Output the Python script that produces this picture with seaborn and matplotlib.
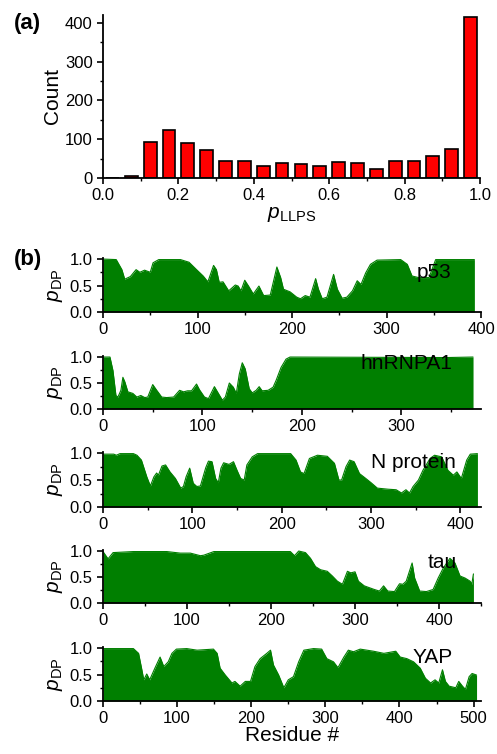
import numpy as np
import pandas as pd
import matplotlib
matplotlib.use('Agg')
import matplotlib.pyplot as plt
from matplotlib.ticker import MultipleLocator
import seaborn as sns

# ---- panel (a): histogram of p_LLPS ----
bin_centers = [0.025, 0.075, 0.125, 0.175, 0.225, 0.275, 0.325, 0.375, 0.425, 0.475,
               0.525, 0.575, 0.625, 0.675, 0.725, 0.775, 0.825, 0.875, 0.925, 0.975]
bin_counts = [1, 4, 94, 124, 89, 71, 45, 45, 31, 39,
              36, 30, 42, 38, 23, 45, 45, 56, 75, 414]

# ---- panel (b): p_DP profiles (residue, value) ----
p53_res = [0, 14, 20, 23, 29, 35, 39, 44, 50, 53, 59, 82, 91, 99, 106, 111, 117, 120, 123, 127,
           133, 140, 143, 146, 150, 154, 159, 165, 170, 177, 184, 188, 191, 198, 205, 209, 214,
           219, 225, 228, 232, 237, 244, 248, 253, 258, 264, 269, 273, 278, 283, 290, 315, 322,
           327, 334, 345, 352, 393]
p53_val = [1.0, 0.99, 0.8, 0.62, 0.67, 0.80, 0.75, 0.79, 0.75, 0.93, 0.99, 0.99, 0.94, 0.80,
           0.68, 0.57, 0.88, 0.80, 0.56, 0.57, 0.40, 0.51, 0.49, 0.40, 0.60, 0.49, 0.34, 0.49,
           0.31, 0.32, 0.85, 0.65, 0.43, 0.38, 0.28, 0.25, 0.31, 0.28, 0.63, 0.43, 0.25, 0.28,
           0.71, 0.43, 0.26, 0.28, 0.40, 0.59, 0.52, 0.74, 0.90, 0.98, 0.99, 0.90, 0.68, 0.65,
           0.65, 0.99, 0.99]

hnrnpa1_res = [0, 7, 10, 13, 15, 18, 20, 22, 25, 30, 34, 38, 42, 45, 50, 54, 59, 64, 71, 77,
               81, 85, 89, 94, 97, 102, 106, 112, 116, 120, 123, 127, 131, 134, 137, 140, 143,
               147, 150, 154, 157, 160, 166, 171, 174, 179, 184, 188, 345, 372]
hnrnpa1_val = [1.0, 1.0, 0.74, 0.26, 0.23, 0.36, 0.61, 0.52, 0.33, 0.30, 0.23, 0.26, 0.22,
               0.23, 0.47, 0.36, 0.23, 0.22, 0.23, 0.36, 0.33, 0.35, 0.35, 0.48, 0.37, 0.23,
               0.20, 0.43, 0.30, 0.17, 0.23, 0.50, 0.42, 0.30, 0.67, 0.89, 0.77, 0.39, 0.31,
               0.36, 0.43, 0.35, 0.36, 0.42, 0.55, 0.80, 0.96, 1.0, 0.99, 1.0]

nprot_res = [0, 12, 15, 19, 34, 38, 43, 49, 53, 57, 60, 62, 66, 70, 75, 81, 87, 90, 93, 97,
             101, 105, 109, 115, 118, 122, 126, 129, 132, 135, 141, 146, 150, 154, 158, 161,
             167, 173, 210, 216, 221, 225, 231, 240, 251, 259, 264, 267, 272, 276, 281, 287,
             294, 300, 307, 319, 328, 334, 339, 343, 347, 353, 358, 366, 371, 379, 386, 392,
             396, 401, 407, 411, 419]
nprot_val = [0.98, 0.98, 0.96, 0.99, 0.99, 0.96, 0.87, 0.56, 0.39, 0.56, 0.63, 0.59, 0.76,
             0.78, 0.65, 0.53, 0.35, 0.38, 0.56, 0.72, 0.44, 0.38, 0.39, 0.73, 0.85, 0.84,
             0.53, 0.45, 0.72, 0.82, 0.79, 0.84, 0.68, 0.53, 0.50, 0.78, 0.93, 0.99, 0.99,
             0.87, 0.65, 0.62, 0.90, 0.96, 0.94, 0.81, 0.50, 0.50, 0.75, 0.87, 0.84, 0.62,
             0.53, 0.45, 0.35, 0.33, 0.32, 0.26, 0.32, 0.26, 0.38, 0.50, 0.68, 0.90, 0.96,
             0.93, 0.68, 0.59, 0.65, 0.53, 0.87, 0.98, 0.99]

tau_res = [0, 6, 12, 36, 76, 92, 104, 116, 120, 132, 223, 228, 233, 241, 247, 253, 259, 267,
           273, 279, 285, 291, 295, 300, 304, 311, 323, 329, 334, 339, 347, 353, 357, 361,
           368, 371, 377, 385, 393, 399, 405, 413, 419, 425, 431, 437, 439, 441]
tau_val = [0.99, 0.85, 0.97, 0.99, 0.99, 0.96, 0.96, 0.91, 0.92, 0.99, 0.99, 0.91, 1.0, 0.97,
           0.86, 0.70, 0.64, 0.61, 0.52, 0.42, 0.36, 0.61, 0.58, 0.60, 0.42, 0.33, 0.26,
           0.23, 0.33, 0.23, 0.22, 0.37, 0.36, 0.42, 0.77, 0.48, 0.23, 0.22, 0.26, 0.48,
           0.67, 0.86, 0.77, 0.52, 0.48, 0.42, 0.36, 0.56]

yap_res = [0, 41, 48, 52, 55, 59, 63, 70, 77, 82, 88, 93, 99, 113, 127, 149, 154, 158, 165,
           174, 178, 185, 192, 199, 205, 212, 221, 226, 230, 237, 244, 250, 257, 264, 271,
           284, 295, 302, 311, 317, 325, 331, 338, 347, 365, 379, 395, 401, 410, 419, 428,
           435, 442, 448, 453, 458, 462, 467, 476, 480, 485, 489, 494, 498, 504]
yap_val = [0.99, 0.99, 0.90, 0.62, 0.40, 0.51, 0.40, 0.62, 0.83, 0.65, 0.74, 0.90, 0.98,
           0.99, 0.96, 0.98, 0.90, 0.62, 0.49, 0.34, 0.37, 0.28, 0.37, 0.37, 0.65, 0.80,
           0.90, 0.96, 0.68, 0.49, 0.25, 0.40, 0.46, 0.74, 0.96, 0.99, 0.98, 0.80, 0.74,
           0.63, 0.83, 0.96, 0.93, 0.98, 0.94, 0.90, 0.94, 0.83, 0.80, 0.74, 0.62, 0.43,
           0.34, 0.40, 0.34, 0.59, 0.37, 0.28, 0.25, 0.37, 0.28, 0.22, 0.46, 0.52, 0.49]

proteins = ['p53', 'hnRNPA1', 'N protein', 'tau', 'YAP']
profiles = [(p53_res, p53_val), (hnrnpa1_res, hnrnpa1_val), (nprot_res, nprot_val),
            (tau_res, tau_val), (yap_res, yap_val)]
x_limits = [400, 380, 423, 450, 510]

# ---- style ----
sns.set_style('ticks')
plt.rcParams['font.family'] = ['Liberation Sans', 'DejaVu Sans']
plt.rcParams['mathtext.fontset'] = 'custom'
plt.rcParams['mathtext.rm'] = 'Liberation Sans'
plt.rcParams['mathtext.it'] = 'Liberation Sans:italic'
plt.rcParams['axes.linewidth'] = 1.3
plt.rcParams['axes.edgecolor'] = 'black'
plt.rcParams['axes.labelcolor'] = 'black'
plt.rcParams['text.color'] = 'black'
for ax_name in ['xtick', 'ytick']:
    plt.rcParams[f'{ax_name}.direction'] = 'out'
    plt.rcParams[f'{ax_name}.major.size'] = 4
    plt.rcParams[f'{ax_name}.minor.size'] = 2.5
    plt.rcParams[f'{ax_name}.major.width'] = 1.2
    plt.rcParams[f'{ax_name}.minor.width'] = 1.0
    plt.rcParams[f'{ax_name}.labelsize'] = 12
    plt.rcParams[f'{ax_name}.color'] = 'black'
    plt.rcParams[f'{ax_name}.labelcolor'] = 'black'

fig = plt.figure(figsize=(4.97, 7.54), dpi=100)
W, H = 497, 754


def px_axes(left, top, right, bottom):
    return fig.add_axes([left / W, 1 - bottom / H, (right - left) / W, (bottom - top) / H])


# panel (a)
ax_a = px_axes(103, 15, 480, 178)
hist_df = pd.DataFrame({'p': bin_centers, 'n': bin_counts})
sns.histplot(data=hist_df, x='p', weights='n', binwidth=0.05, binrange=(0, 1),
             shrink=0.68, color='#ff0000', edgecolor='black', linewidth=1.2, alpha=1,
             ax=ax_a)
ax_a.set_xlim(0, 1.0)
ax_a.set_ylim(0, 420)
ax_a.xaxis.set_major_locator(MultipleLocator(0.2))
ax_a.xaxis.set_minor_locator(MultipleLocator(0.1))
ax_a.yaxis.set_major_locator(MultipleLocator(100))
ax_a.yaxis.set_minor_locator(MultipleLocator(50))
ax_a.xaxis.set_major_formatter(plt.FormatStrFormatter('%.1f'))
ax_a.set_ylabel('Count', fontsize=15, labelpad=2)
ax_a.set_xlabel(r'$p_{\mathrm{LLPS}}$', fontsize=15, labelpad=1)
sns.despine(ax=ax_a)
fig.text(14 / W, 1 - 23 / H, '(a)', fontsize=16, fontweight='bold', va='center', ha='left')

# panel (b)
rows = [(258, 312), (356, 409), (452, 507), (550, 603), (647, 701)]
label_pos = [(0.83, 0.74), (0.68, 0.86), (0.71, 0.80), (0.86, 0.77), (0.82, 0.81)]
for i, (name, (res, val), xmax, (top, bottom), (lx, ly)) in enumerate(
        zip(proteins, profiles, x_limits, rows, label_pos)):
    ax = px_axes(103, top, 481, bottom)
    df = pd.DataFrame({'residue': res, 'p_dp': val})
    sns.lineplot(data=df, x='residue', y='p_dp', color='#007f00', linewidth=0.8,
                 estimator=None, ax=ax)
    ax.fill_between(df['residue'], df['p_dp'], color='#007f00', linewidth=0)
    ax.set_xlim(0, xmax)
    ax.set_ylim(0, 1.02)
    ax.xaxis.set_major_locator(MultipleLocator(100))
    ax.xaxis.set_minor_locator(MultipleLocator(50))
    ax.yaxis.set_major_locator(MultipleLocator(0.5))
    ax.yaxis.set_minor_locator(MultipleLocator(0.25))
    ax.yaxis.set_major_formatter(plt.FormatStrFormatter('%.1f'))
    ax.set_ylabel(r'$p_{\mathrm{DP}}$', fontsize=15, labelpad=3)
    ax.set_xlabel('Residue #' if i == len(proteins) - 1 else '', fontsize=15, labelpad=0)
    ax.text(lx, ly, name, transform=ax.transAxes, fontsize=15, ha='left', va='center')
    sns.despine(ax=ax)

fig.text(14 / W, 1 - 260 / H, '(b)', fontsize=16, fontweight='bold', va='center', ha='left')

fig.savefig('out.png', dpi=100)
